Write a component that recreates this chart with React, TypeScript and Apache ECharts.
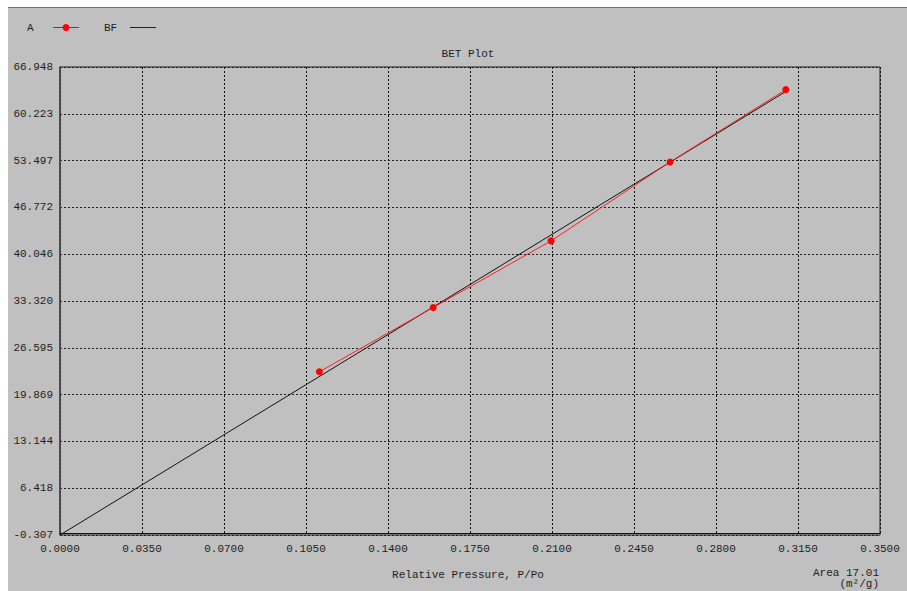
import React, { useEffect, useRef } from "react";
import * as echarts from "echarts";

// BET transform points: relative pressure P/Po vs. 1/[W((Po/P)-1)]
const pressure = [0.1107, 0.1593, 0.2096, 0.2604, 0.3098];
const betValues = [23.15, 32.39, 41.96, 53.3, 63.7];

// Best-fit (BF) line end points
const fitPressure = [0, 0.3098];
const fitValues = [-0.307, 63.43];

// Axis ticks
const yTicks = [-0.307, 6.418, 13.144, 19.869, 26.595, 33.32, 40.046, 46.772, 53.497, 60.223, 66.948];
const xMin = 0;
const xMax = 0.35;
const xStep = 0.035;

const areaText = "Area 17.01";
const areaUnit = "(m²/g)";

const FONT = "'Liberation Mono', 'DejaVu Sans Mono', monospace";
const INK = "#1e1e1e";

export default function App() {
  const ref = useRef<HTMLDivElement>(null);

  useEffect(() => {
    if (!ref.current) return;
    const chart = echarts.init(ref.current, undefined, { renderer: "svg" });
    const textBase = { fontFamily: FONT, fontSize: 11, fill: INK };

    chart.setOption({
      animation: false,
      backgroundColor: "transparent",
      textStyle: { fontFamily: FONT, fontSize: 11, color: INK },
      grid: {
        left: 60,
        top: 67,
        width: 820,
        height: 468,
        show: true,
        borderColor: "#222",
        borderWidth: 1,
        backgroundColor: "transparent",
      },
      xAxis: {
        type: "value",
        min: xMin,
        max: xMax,
        interval: xStep,
        axisLine: { show: true, lineStyle: { color: "#111", width: 1 } },
        axisTick: { show: false },
        axisLabel: {
          margin: 8,
          color: INK,
          fontFamily: FONT,
          fontSize: 11,
          formatter: (v: number) => v.toFixed(4),
        },
        splitLine: { show: true, lineStyle: { color: "#111", type: [2, 2], width: 1 } },
      },
      yAxis: {
        type: "value",
        min: yTicks[0],
        max: yTicks[yTicks.length - 1],
        axisLine: { show: true, lineStyle: { color: "#444", width: 1.5 } },
        axisTick: { show: false, customValues: yTicks },
        axisLabel: {
          margin: 7,
          color: INK,
          fontFamily: FONT,
          fontSize: 11,
          customValues: yTicks,
          formatter: (v: number) => v.toFixed(3),
        },
        splitLine: { show: true, lineStyle: { color: "#222", type: [2, 2], width: 1 } },
      },
      series: [
        {
          name: "BF",
          type: "line",
          data: fitPressure.map((x, i) => [x, fitValues[i]]),
          showSymbol: false,
          symbol: "none",
          lineStyle: { color: "#111", width: 1 },
          z: 2,
        },
        {
          name: "A",
          type: "line",
          data: pressure.map((x, i) => [x, betValues[i]]),
          symbol: "circle",
          symbolSize: 7,
          itemStyle: { color: "#ff0000" },
          lineStyle: { color: "#ff2020", width: 1 },
          z: 3,
        },
      ],
      graphic: [
        // legend
        { type: "text", left: 27, top: 22, style: { ...textBase, text: "A" } },
        { type: "line", shape: { x1: 53, y1: 27.5, x2: 79, y2: 27.5 }, style: { stroke: "#ff0000", lineWidth: 1 } },
        { type: "circle", shape: { cx: 66, cy: 27.5, r: 3.5 }, style: { fill: "#ff0000" } },
        { type: "text", left: 104, top: 22, style: { ...textBase, text: "BF" } },
        { type: "line", shape: { x1: 130, y1: 27.5, x2: 156, y2: 27.5 }, style: { stroke: "#222", lineWidth: 1 } },
        // title
        {
          type: "text",
          x: 468,
          y: 54,
          style: { ...textBase, text: "BET Plot", textAlign: "center", textVerticalAlign: "middle" },
        },
        // axis name
        {
          type: "text",
          x: 468,
          y: 575,
          style: { ...textBase, text: "Relative Pressure, P/Po", textAlign: "center", textVerticalAlign: "middle" },
        },
        // specific surface area
        {
          type: "text",
          x: 879,
          y: 573,
          style: { ...textBase, text: areaText, textAlign: "right", textVerticalAlign: "middle" },
        },
        {
          type: "text",
          x: 879,
          y: 584,
          style: { ...textBase, text: areaUnit, textAlign: "right", textVerticalAlign: "middle" },
        },
      ],
    });

    return () => chart.dispose();
  }, []);

  return (
    <div style={{ position: "absolute", left: 0, top: 0, width: 907, height: 591, background: "#fff", overflow: "hidden" }}>
      <div
        style={{
          position: "absolute",
          left: 8,
          top: 7,
          width: 899,
          height: 584,
          background: "#c0c0c0",
          borderTop: "1px solid #6f6f6a",
          boxSizing: "border-box",
        }}
      />
      <div ref={ref} style={{ position: "absolute", left: 0, top: 0, width: 907, height: 591 }} />
    </div>
  );
}
